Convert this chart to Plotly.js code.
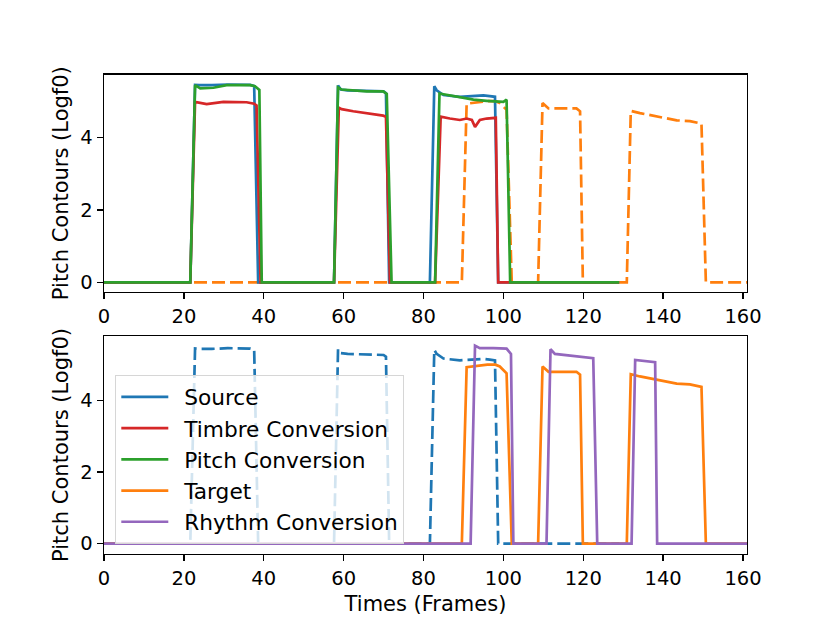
<!DOCTYPE html>
<html lang="en">
    <head>
        <meta charset="UTF-8" />
        <script src="https://cdn.plot.ly/plotly-3.0.1.min.js"></script>
        <title>Pitch Contours</title>
        <style>
            body { margin: 0; background: #fff; }
            #graph { width: 830px; height: 623px; }
        </style>
    </head>
    <body>
        <div id="graph"></div>
    </body>
    <script>
        // Pitch contours (logf0), breakpoints per frame
        const sourceX = [0, 21.6, 22.8, 24, 27, 29, 31, 36.6, 37.6, 38.6, 57.6, 58.6, 59.3, 61, 64, 67, 70, 70.6, 71.4, 81.6, 82.7, 83.3, 85.0, 89.1, 91.6, 95.0, 96.6, 97.9, 98.7, 129];
        const sourceY = [0, 0, 5.45, 5.44, 5.44, 5.45, 5.46, 5.45, 5.42, 0, 0, 5.43, 5.32, 5.30, 5.29, 5.28, 5.27, 5.22, 0, 0, 5.41, 5.30, 5.17, 5.12, 5.13, 5.16, 5.14, 5.12, 0, 0];

        const timbreX = [0, 21.6, 22.8, 25.7, 29.9, 35.7, 37.6, 38.2, 39.2, 57.6, 58.8, 59.5, 62.4, 65.8, 69.9, 70.6, 71.6, 82.9, 84.3, 86.6, 89.1, 90.8, 92.1, 92.9, 94.1, 95.8, 98.1, 98.7, 129];
        const timbreY = [0, 0, 4.98, 4.92, 4.98, 4.97, 4.93, 4.88, 0, 0, 4.82, 4.78, 4.72, 4.67, 4.60, 4.57, 0, 0, 4.57, 4.52, 4.48, 4.52, 4.48, 4.29, 4.48, 4.52, 4.54, 0, 0];

        const pitchX = [0, 21.6, 22.8, 24.1, 27.4, 29.1, 30.7, 36.6, 37.8, 38.9, 39.5, 57.6, 58.6, 59.5, 62.4, 65.8, 69.9, 70.8, 72.0, 82.9, 84.0, 86.6, 89.1, 92.5, 95.8, 100.0, 100.8, 101.7, 129];
        const pitchY = [0, 0, 5.44, 5.35, 5.37, 5.41, 5.44, 5.44, 5.41, 5.31, 0, 0, 5.38, 5.32, 5.29, 5.27, 5.27, 5.20, 0, 0, 5.21, 5.16, 5.12, 5.04, 5.01, 4.98, 5.04, 0, 0];

        const targetX = [0, 89.6, 90.8, 93.3, 96, 98, 99.1, 100.8, 102.1, 108.7, 109.8, 111.3, 115.8, 118.3, 119.2, 119.9, 130.9, 131.9, 134.2, 138.4, 140.9, 143.4, 146.7, 149.6, 150.7, 161];
        const targetY = [0, 0, 4.93, 4.96, 5.0, 5.0, 4.95, 4.76, 0, 0, 4.95, 4.80, 4.81, 4.80, 4.72, 0, 0, 4.73, 4.67, 4.57, 4.52, 4.47, 4.45, 4.38, 0, 0];

        const rhythmX = [0, 91.8, 92.9, 94.1, 97.5, 100.8, 101.9, 102.5, 110.8, 111.8, 112.9, 117.5, 122.5, 123.5, 132.1, 133.0, 135.9, 138.0, 138.5, 161];
        const rhythmY = [0, 0, 5.53, 5.46, 5.46, 5.45, 5.30, 0, 0, 5.43, 5.30, 5.25, 5.18, 0, 0, 5.13, 5.10, 5.07, 0, 0];

        const xTicks = [0, 20, 40, 60, 80, 100, 120, 140, 160];
        const yTicks = [0, 2, 4];

        const BLUE = "#1f77b4", ORANGE = "#ff7f0e", GREEN = "#2ca02c", RED = "#d62728", PURPLE = "#9467bd";
        const LW = 2.7;
        const DASH = "13px,5px";
        const GAP = "\u2002"; // extra room between legend line and label

        function line(x, y, color, name, xa, ya, dashed, legend) {
            return {
                x: x, y: y, name: GAP + name, xaxis: xa, yaxis: ya,
                type: "scatter", mode: "lines",
                line: { color: color, width: LW, dash: dashed ? DASH : "solid" },
                showlegend: legend, hoverinfo: "skip",
            };
        }

        const data = [
            // top panel
            line(targetX, targetY, ORANGE, "Target", "x", "y", true, false),
            line(sourceX, sourceY, BLUE, "Source", "x", "y", false, true),
            line(timbreX, timbreY, RED, "Timbre Conversion", "x", "y", false, true),
            line(pitchX, pitchY, GREEN, "Pitch Conversion", "x", "y", false, true),
            // bottom panel
            line(sourceX, sourceY, BLUE, "Source", "x2", "y2", true, false),
            line(targetX, targetY, ORANGE, "Target", "x2", "y2", false, true),
            line(rhythmX, rhythmY, PURPLE, "Rhythm Conversion", "x2", "y2", false, true),
        ];

        const tickFont = { family: "DejaVu Sans", size: 19.5, color: "#000" };
        const titleFont = { family: "DejaVu Sans", size: 21, color: "#000" };

        function xAxis(title) {
            const ax = {
                domain: [104 / 830, 747 / 830], range: [0, 161],
                tickvals: xTicks, ticks: "outside", ticklen: 6, tickwidth: 1.4, tickcolor: "#000",
                showline: true, linecolor: "#000", linewidth: 1.4, mirror: true,
                showgrid: false, zeroline: false, tickfont: tickFont, automargin: false,
            };
            if (title) ax.title = { text: title, font: titleFont, standoff: 7 };
            return ax;
        }

        function yAxis(domain, range) {
            return {
                domain: domain, range: range,
                tickvals: yTicks, ticks: "outside", ticklen: 6, tickwidth: 1.4, tickcolor: "#000",
                showline: true, linecolor: "#000", linewidth: 1.4, mirror: true,
                showgrid: false, zeroline: false, tickfont: tickFont, automargin: false,
                title: { text: "Pitch Contours (Logf0)", font: titleFont, standoff: 6 },
            };
        }

        const layout = {
            width: 830, height: 623,
            margin: { l: 0, r: 0, t: 0, b: 0 },
            paper_bgcolor: "#fff", plot_bgcolor: "#fff",
            font: { family: "DejaVu Sans", color: "#000" },
            xaxis: Object.assign(xAxis(null), { anchor: "y" }),
            yaxis: Object.assign(yAxis([(623 - 291.7) / 623, (623 - 74.7) / 623], [-0.26, 5.73]), { anchor: "x" }),
            xaxis2: Object.assign(xAxis("Times (Frames)"), { anchor: "y2" }),
            yaxis2: Object.assign(yAxis([(623 - 554) / 623, (623 - 336) / 623], [-0.29, 5.8]), { anchor: "x2" }),
            legend: {
                x: 115 / 830, y: (623 - 375) / 623, xanchor: "left", yanchor: "top",
                bgcolor: "rgba(255,255,255,0.8)", bordercolor: "#d6d6d6", borderwidth: 1.3,
                font: { family: "DejaVu Sans", size: 21.7, color: "#000" },
                itemwidth: 47, traceorder: "normal", tracegroupgap: 0,
            },
            showlegend: true,
        };

        Plotly.newPlot("graph", data, layout, { displayModeBar: false, staticPlot: true });
    </script>
</html>
